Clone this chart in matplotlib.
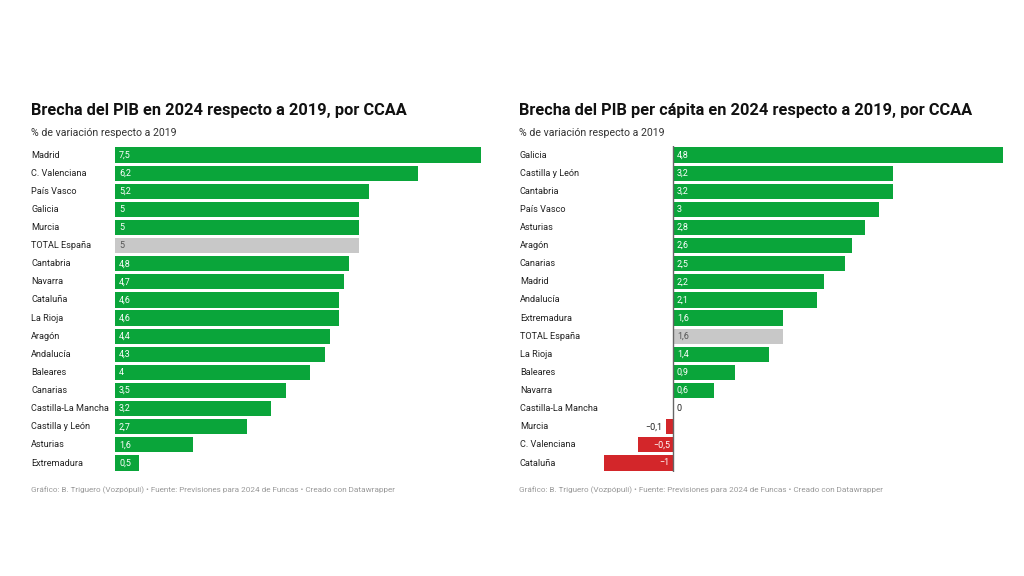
import matplotlib.pyplot as plt

plt.rcParams['font.family'] = ['Roboto', 'DejaVu Sans']

# left chart: PIB
regiones_pib = ['Madrid', 'C. Valenciana', 'País Vasco', 'Galicia', 'Murcia', 'TOTAL España',
                'Cantabria', 'Navarra', 'Cataluña', 'La Rioja', 'Aragón', 'Andalucía',
                'Baleares', 'Canarias', 'Castilla-La Mancha', 'Castilla y León', 'Asturias',
                'Extremadura']
valores_pib = [7.5, 6.2, 5.2, 5, 5, 5, 4.8, 4.7, 4.6, 4.6, 4.4, 4.3, 4, 3.5, 3.2, 2.7, 1.6, 0.5]

# right chart: PIB per capita
regiones_pc = ['Galicia', 'Castilla y León', 'Cantabria', 'País Vasco', 'Asturias', 'Aragón',
               'Canarias', 'Madrid', 'Andalucía', 'Extremadura', 'TOTAL España', 'La Rioja',
               'Baleares', 'Navarra', 'Castilla-La Mancha', 'Murcia', 'C. Valenciana', 'Cataluña']
valores_pc = [4.8, 3.2, 3.2, 3, 2.8, 2.6, 2.5, 2.2, 2.1, 1.6, 1.6, 1.4, 0.9, 0.6, 0, -0.1, -0.5, -1]

GREEN = '#0aa53a'
RED = '#d3262a'
GREY = '#c8c8c8'
TXT = '#222222'

W, H = 1024, 576
fig = plt.figure(figsize=(W / 100, H / 100), dpi=100)


def fmt(v):
    s = ('%g' % v).replace('.', ',')
    return s.replace('-', '\u2212')


def px_axes(x0, x1, y0, y1):
    return fig.add_axes([x0 / W, 1 - y1 / H, (x1 - x0) / W, (y1 - y0) / H])


def draw(ax, regions, values, xmin, xmax):
    n = len(regions)
    colors = []
    for r, v in zip(regions, values):
        if r == 'TOTAL España':
            colors.append(GREY)
        elif v < 0:
            colors.append(RED)
        else:
            colors.append(GREEN)
    ax.barh(range(n), values, height=0.84, color=colors, zorder=2)
    ax.set_xlim(xmin, xmax)
    ax.set_ylim(n - 0.5, -0.5)
    ax.axis('off')
    unit = (xmax - xmin) / ax.get_position().width / W  # data per pixel
    for i, (r, v) in enumerate(zip(regions, values)):
        if r == 'TOTAL España':
            ax.text(4 * unit, i, fmt(v), va='center', ha='left', fontsize=6.5, color='#555555')
        elif v > 0:
            ax.text(4 * unit, i, fmt(v), va='center', ha='left', fontsize=6.5, color='white')
        elif v == 0:
            ax.text(4 * unit, i, fmt(v), va='center', ha='left', fontsize=6.5, color=TXT)
        elif v > -0.2:
            ax.text(v - 4 * unit, i, fmt(v), va='center', ha='right', fontsize=6.5, color=TXT)
        else:
            ax.text(-3 * unit, i, fmt(v), va='center', ha='right', fontsize=6.5, color='white')


# left
ax1 = px_axes(115, 481, 146, 472)
draw(ax1, regiones_pib, valores_pib, 0, 7.5)
for i, r in enumerate(regiones_pib):
    fig.text(31 / W, 1 - (155 + i * 18.12) / H, r, fontsize=6.6, color=TXT, va='center')

# right
ax2 = px_axes(604, 1003, 146, 472)
draw(ax2, regiones_pc, valores_pc, -1, 4.8)
ax2.axvline(0, color='#666666', lw=1, zorder=3)
for i, r in enumerate(regiones_pc):
    fig.text(520 / W, 1 - (155 + i * 18.12) / H, r, fontsize=6.6, color=TXT, va='center')

# titles
fig.text(31 / W, 1 - 111 / H, 'Brecha del PIB en 2024 respecto a 2019, por CCAA',
         fontsize=11.8, fontweight='bold', color='#111111', va='center')
fig.text(519 / W, 1 - 111 / H, 'Brecha del PIB per cápita en 2024 respecto a 2019, por CCAA',
         fontsize=11.8, fontweight='bold', color='#111111', va='center')
fig.text(31 / W, 1 - 133 / H, '% de variación respecto a 2019', fontsize=7.6, color='#333333', va='center')
fig.text(519 / W, 1 - 133 / H, '% de variación respecto a 2019', fontsize=7.6, color='#333333', va='center')

foot = 'Gráfico: B. Triguero (Vozpópuli) • Fuente: Previsiones para 2024 de Funcas • Creado con Datawrapper'
fig.text(31 / W, 1 - 490 / H, foot, fontsize=5.9, color='#999999', va='center')
fig.text(519 / W, 1 - 490 / H, foot, fontsize=5.9, color='#999999', va='center')

fig.savefig('out.png', dpi=100, facecolor='white')
